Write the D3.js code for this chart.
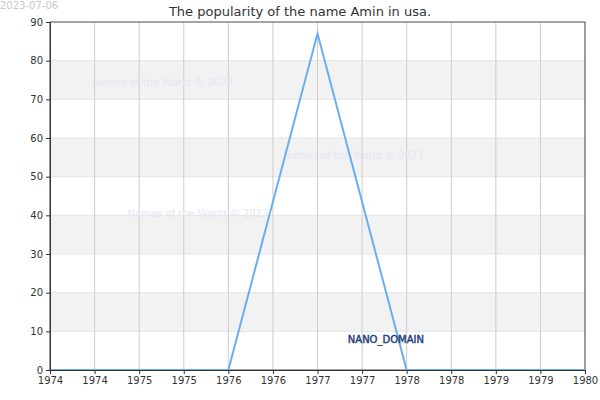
<!DOCTYPE html>
<html lang="en">
<head>
<meta charset="UTF-8">
<script src="https://d3js.org/d3.v7.min.js"></script>
<style>
  body { margin: 0; background: #fff; font-family: "DejaVu Sans", sans-serif; }
</style>
</head>
<body>
<div id="chart"></div>
<script>
// data
const years = [1974, 1975, 1976, 1977, 1978, 1979, 1980];
const popularity = [0, 0, 0, 87, 0, 0, 0];
const yTicks = [0, 10, 20, 30, 40, 50, 60, 70, 80, 90];
const xTicks = [1974, 1974.5, 1975, 1975.5, 1976, 1976.5, 1977, 1977.5, 1978, 1978.5, 1979, 1979.5, 1980];
const watermarks = [
  { text: "Names of the World © 2023", x: 1974.47, y: 73.5 },
  { text: "Names of the World © 2023", x: 1976.61, y: 54.5 },
  { text: "Names of the World © 2023", x: 1974.87, y: 39.5 }
];

const width = 600, height = 400;
const margin = { top: 22, right: 15, bottom: 30, left: 50 };

const svg = d3.select('#chart').append('svg')
  .attr('width', width).attr('height', height);

const x = d3.scaleLinear().domain([1974, 1980]).range([margin.left, width - margin.right]);
const y = d3.scaleLinear().domain([0, 90]).range([height - margin.bottom, margin.top]);

// shaded bands
for (let v = 10; v < 90; v += 20) {
  svg.append('rect')
    .attr('x', x(1974)).attr('width', x(1980) - x(1974))
    .attr('y', y(v + 10)).attr('height', y(v) - y(v + 10))
    .attr('fill', '#f2f2f2');
}

// horizontal grid
svg.selectAll('.hgrid').data(yTicks).enter().append('line')
  .attr('x1', x(1974)).attr('x2', x(1980))
  .attr('y1', d => y(d)).attr('y2', d => y(d))
  .attr('stroke', '#e4e4e4');

// vertical grid
svg.selectAll('.vgrid').data(xTicks).enter().append('line')
  .attr('x1', d => x(d)).attr('x2', d => x(d))
  .attr('y1', y(0)).attr('y2', y(90))
  .attr('stroke', '#cccccc');

// frame
svg.append('rect')
  .attr('x', x(1974)).attr('y', y(90))
  .attr('width', x(1980) - x(1974)).attr('height', y(0) - y(90))
  .attr('fill', 'none').attr('stroke', '#333').attr('stroke-width', 0.8);

// watermarks
svg.selectAll('.wm').data(watermarks).enter().append('text')
  .attr('x', d => x(d.x)).attr('y', d => y(d.y))
  .attr('font-size', 10).attr('fill', '#e6e6f5')
  .text(d => d.text);

// line
svg.append('path')
  .datum(years.map((yr, i) => [yr, popularity[i]]))
  .attr('fill', 'none').attr('stroke', '#6aaef0').attr('stroke-width', 2)
  .attr('d', d3.line().x(d => x(d[0])).y(d => y(d[1])));

// axes
const xAxis = svg.append('g')
  .attr('transform', `translate(0,${y(0)})`)
  .call(d3.axisBottom(x).tickValues(xTicks).tickFormat(d => Math.floor(d)).tickSize(4));
const yAxis = svg.append('g')
  .attr('transform', `translate(${x(1974)},0)`)
  .call(d3.axisLeft(y).tickValues(yTicks).tickSize(4));
[xAxis, yAxis].forEach(a => {
  a.selectAll('text').attr('font-size', 10).attr('fill', '#333').attr('font-family', 'DejaVu Sans');
  a.select('.domain').attr('stroke', '#333');
  a.selectAll('.tick line').attr('stroke', '#333');
});

// title
svg.append('text')
  .attr('x', width / 2).attr('y', 16)
  .attr('text-anchor', 'middle').attr('font-size', 13).attr('fill', '#333')
  .text('The popularity of the name Amin in usa.');

// date stamp
svg.append('text')
  .attr('x', 0).attr('y', 9)
  .attr('font-size', 10).attr('fill', '#c8c8c8')
  .text('2023-07-06');

// domain label
svg.append('text')
  .attr('x', x(1977.34)).attr('y', y(7))
  .attr('font-size', 10)
  .attr('fill', '#1a3a7a').attr('stroke', '#1a3a7a').attr('stroke-width', 0.4)
  .text('NANO_DOMAIN');
</script>
</body>
</html>
